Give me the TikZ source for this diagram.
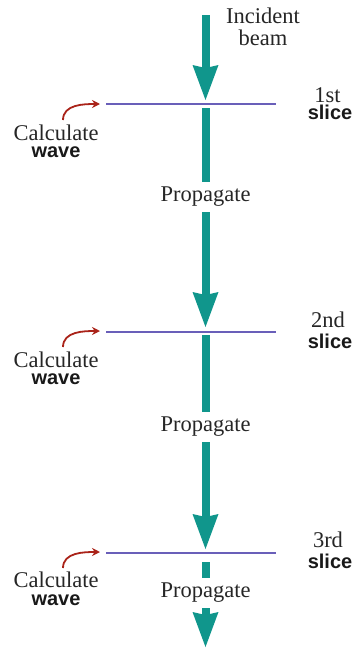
\documentclass[tikz,border=0pt]{standalone}
\usepackage{fontspec}
\setmainfont{Liberation Serif}
\setsansfont{Liberation Sans}
\definecolor{beamteal}{RGB}{16,150,140}
\definecolor{slicepurple}{RGB}{105,95,185}
\definecolor{calcred}{RGB}{170,35,25}
\usetikzlibrary{arrows.meta}

\begin{document}
\begin{tikzpicture}[x=1pt,y=1pt,
  shaft/.style={draw=beamteal,line width=8pt},
  beam/.style={shaft,-{Stealth[width=26pt,length=35pt,inset=3pt,line width=0pt]}},
  sliceline/.style={draw=slicepurple,line width=1.5pt},
  calcarrow/.style={draw=calcred,line width=1.8pt,-{Stealth[length=8pt,width=8pt]},out=90,in=180},
  txt/.style={font=\fontsize{22.5}{22}\selectfont,text=black!85,inner sep=0pt},
  bold/.style={font=\fontsize{20}{20}\selectfont\sffamily\bfseries,text=black!90,inner sep=0pt},
  prop/.style={txt,text height=19pt,text depth=11pt}]
  \useasboundingbox (0,0) rectangle (353,-648);
  % beam axis
  \coordinate (src) at (205.5,-15);
  \coordinate (s1) at (205.5,-104);
  \coordinate (s2) at (205.5,-332);
  \coordinate (s3) at (205.5,-553);
  \coordinate (exit) at (205.5,-647);
  \node[txt,align=center,anchor=north] (inc) at (263,-8) {Incident\\beam};
  % 1st slice
  \coordinate (sl1) at (106,-104);
  \coordinate (sr1) at (276,-104);
  \draw[sliceline] (sl1) -- (sr1);
  \node[txt,anchor=base] (ord1) at (327.5,-102) {1st};
  \node[bold,anchor=base] (lab1) at (330,-119) {slice};
  \node[txt,anchor=base] (calc1) at (56,-140) {Calculate};
  \node[bold,anchor=base] (wave1) at (56,-157) {wave};
  \coordinate (ca1) at (63,-120);
  \coordinate (cb1) at (100,-104);
  \draw[calcarrow] (ca1) to (cb1);
  \node[prop,anchor=base] (prop1) at (205.5,-201) {Propagate};
  % 2nd slice
  \coordinate (sl2) at (106,-332);
  \coordinate (sr2) at (276,-332);
  \draw[sliceline] (sl2) -- (sr2);
  \node[txt,anchor=base] (ord2) at (328,-327) {2nd};
  \node[bold,anchor=base] (lab2) at (330,-348) {slice};
  \node[txt,anchor=base] (calc2) at (56,-367) {Calculate};
  \node[bold,anchor=base] (wave2) at (56,-384) {wave};
  \coordinate (ca2) at (63,-347);
  \coordinate (cb2) at (100,-331);
  \draw[calcarrow] (ca2) to (cb2);
  \node[prop,anchor=base] (prop2) at (205.5,-431) {Propagate};
  % 3rd slice
  \coordinate (sl3) at (106,-553);
  \coordinate (sr3) at (276,-553);
  \draw[sliceline] (sl3) -- (sr3);
  \node[txt,anchor=base] (ord3) at (328,-547) {3rd};
  \node[bold,anchor=base] (lab3) at (330,-568) {slice};
  \node[txt,anchor=base] (calc3) at (56,-587) {Calculate};
  \node[bold,anchor=base] (wave3) at (56,-605) {wave};
  \coordinate (ca3) at (63,-568);
  \coordinate (cb3) at (100,-552);
  \draw[calcarrow] (ca3) to (cb3);
  \node[prop,anchor=base] (prop3) at (205.5,-597) {Propagate};
  % beam segments
  \draw[beam,shorten >=4pt] (src) -- (s1);
  \draw[shaft,shorten <=4pt] (s1) -- (prop1);
  \draw[beam,shorten >=5pt] (prop1) -- (s2);
  \draw[shaft,shorten <=3pt] (s2) -- (prop2);
  \draw[beam,shorten >=4pt] (prop2) -- (s3);
  \draw[shaft,shorten <=9pt] (s3) -- (prop3);
  \draw[beam] (prop3) -- (exit);
\end{tikzpicture}
\end{document}
